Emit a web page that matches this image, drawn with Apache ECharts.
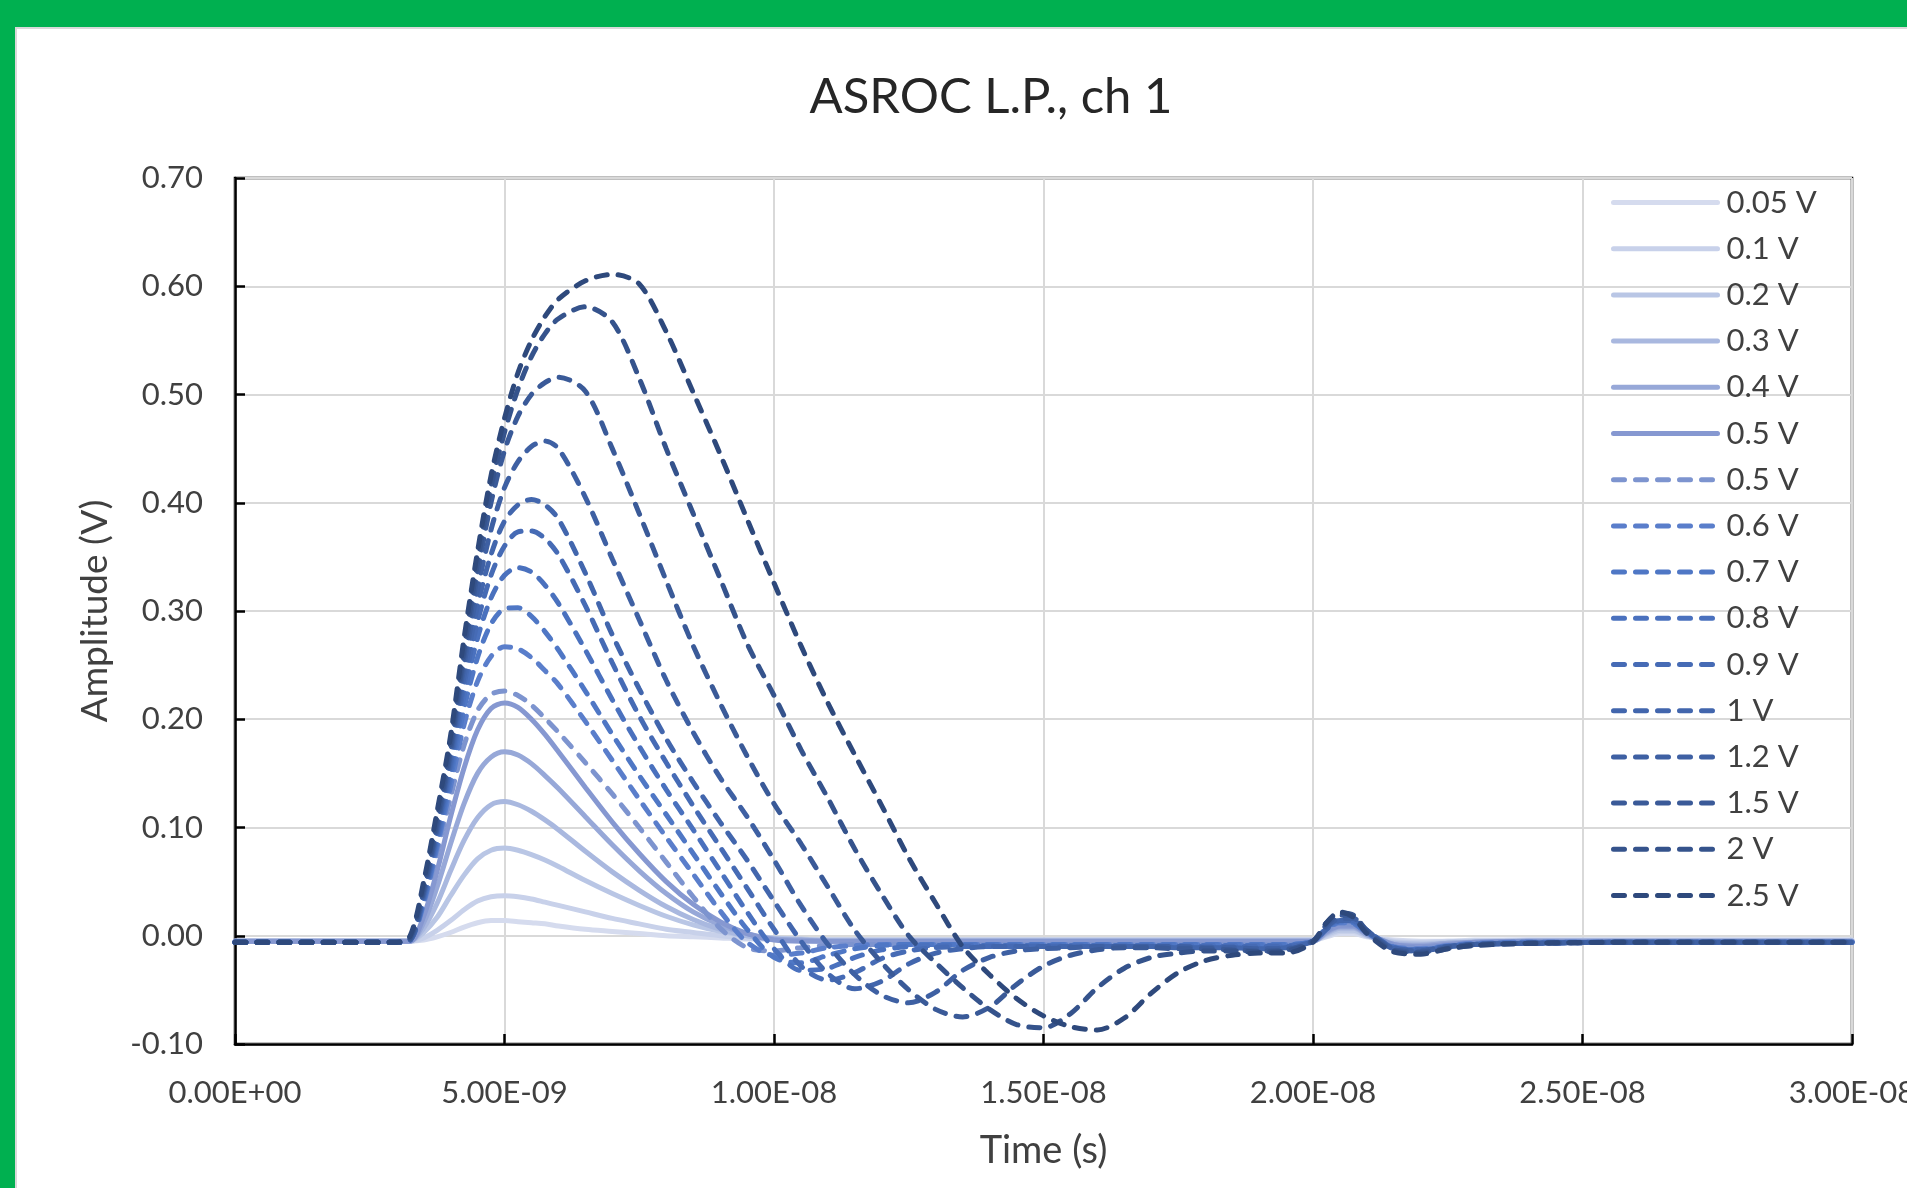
<!DOCTYPE html>
<html>
<head>
<meta charset="utf-8">
<title>ASROC L.P., ch 1</title>
<script src="https://cdn.jsdelivr.net/npm/echarts@6/dist/echarts.min.js"></script>
<style>
  html, body { margin: 0; padding: 0; width: 1907px; height: 1188px; overflow: hidden; background: #00b050; }
  #frame { position: absolute; left: 15px; top: 27px; width: 1892px; height: 1161px; background: #fff;
           box-sizing: border-box; border-left: 2px solid #d9d9d9; border-top: 2px solid #d9d9d9; }
  #chart { position: absolute; left: 0; top: 0; width: 1907px; height: 1188px; }
</style>
</head>
<body>
<div id="frame"></div>
<div id="chart"></div>
<script>
// time in ns (shown on the axis in seconds)
const timeNs = [
  0, 2, 3, 3.25, 3.5, 3.75, 4, 4.25, 4.5, 4.75, 5, 5.25, 5.5, 5.75, 6,
  6.5, 7, 7.5, 8, 8.5, 9, 9.5, 10, 10.5, 11, 11.5, 12, 12.5, 13, 13.5,
  14, 14.5, 15, 15.5, 16, 16.5, 17, 17.5, 18, 18.5, 19, 19.5, 20, 20.25, 20.5,
  20.75, 21, 21.5, 22, 22.5, 23, 24, 26, 28, 30,
];

const labels = [
  "0.05 V", "0.1 V", "0.2 V", "0.3 V", "0.4 V", "0.5 V",
  "0.5 V", "0.6 V", "0.7 V", "0.8 V", "0.9 V", "1 V", "1.2 V", "1.5 V", "2 V", "2.5 V",
];

const yTicks = [-0.1, 0, 0.1, 0.2, 0.3, 0.4, 0.5, 0.6, 0.7];
const xTicksNs = [0, 5, 10, 15, 20, 25, 30];

// amplitudes (V)
const v005 = [
  -0.005, -0.005, -0.005, -0.005, -0.004, -0.001, 0.003, 0.008, 0.012, 0.014, 0.014, 0.013, 0.012, 0.011, 0.009,
  0.006, 0.004, 0.002, 0.0, -0.001, -0.002, -0.003, -0.003, -0.004, -0.004, -0.004, -0.004, -0.004, -0.004, -0.004,
  -0.004, -0.004, -0.004, -0.004, -0.004, -0.004, -0.004, -0.004, -0.004, -0.004, -0.004, -0.004, -0.004, -0.001, 0.002,
  0.002, -0.001, -0.004, -0.005, -0.005, -0.004, -0.004, -0.004, -0.004, -0.004,
];
const v01 = [
  -0.005, -0.005, -0.005, -0.005, -0.002, 0.005, 0.014, 0.024, 0.032, 0.036, 0.037, 0.036, 0.034, 0.031, 0.028,
  0.022, 0.016, 0.011, 0.006, 0.003, 0.0, -0.002, -0.003, -0.004, -0.004, -0.004, -0.004, -0.004, -0.004, -0.004,
  -0.004, -0.004, -0.004, -0.004, -0.004, -0.004, -0.004, -0.004, -0.004, -0.004, -0.004, -0.004, -0.004, 0.0, 0.004,
  0.004, 0.0, -0.005, -0.006, -0.005, -0.005, -0.004, -0.004, -0.004, -0.004,
];
const v02 = [
  -0.005, -0.005, -0.005, -0.005, 0.003, 0.017, 0.037, 0.056, 0.071, 0.079, 0.081, 0.079, 0.075, 0.07, 0.064,
  0.051, 0.039, 0.028, 0.018, 0.01, 0.004, 0.0, -0.002, -0.003, -0.004, -0.004, -0.004, -0.004, -0.004, -0.004,
  -0.004, -0.004, -0.004, -0.004, -0.004, -0.004, -0.004, -0.004, -0.004, -0.004, -0.004, -0.004, -0.004, 0.001, 0.005,
  0.005, 0.0, -0.006, -0.007, -0.006, -0.005, -0.005, -0.005, -0.005, -0.005,
];
const v03 = [
  -0.005, -0.005, -0.005, -0.005, 0.007, 0.03, 0.06, 0.088, 0.109, 0.121, 0.124, 0.121, 0.115, 0.107, 0.098,
  0.078, 0.059, 0.042, 0.027, 0.015, 0.006, 0.0, -0.003, -0.004, -0.005, -0.005, -0.005, -0.005, -0.005, -0.005,
  -0.005, -0.005, -0.005, -0.005, -0.005, -0.005, -0.005, -0.005, -0.005, -0.005, -0.005, -0.005, -0.005, 0.002, 0.007,
  0.007, 0.001, -0.007, -0.008, -0.007, -0.006, -0.005, -0.005, -0.005, -0.005,
];
const v04 = [
  -0.005, -0.005, -0.005, -0.005, 0.012, 0.045, 0.085, 0.122, 0.15, 0.165, 0.17, 0.167, 0.159, 0.148, 0.136,
  0.11, 0.084, 0.06, 0.039, 0.022, 0.01, 0.002, -0.003, -0.004, -0.005, -0.005, -0.005, -0.005, -0.005, -0.005,
  -0.005, -0.005, -0.005, -0.005, -0.005, -0.005, -0.005, -0.005, -0.005, -0.005, -0.005, -0.005, -0.005, 0.003, 0.008,
  0.008, 0.001, -0.008, -0.009, -0.007, -0.006, -0.005, -0.005, -0.005, -0.005,
];
const v05s = [
  -0.005, -0.005, -0.005, -0.005, 0.018, 0.06, 0.11, 0.155, 0.19, 0.21, 0.215, 0.211, 0.2, 0.186, 0.17,
  0.137, 0.105, 0.076, 0.05, 0.029, 0.013, 0.002, -0.004, -0.005, -0.005, -0.005, -0.005, -0.005, -0.005, -0.005,
  -0.005, -0.005, -0.005, -0.005, -0.005, -0.005, -0.005, -0.005, -0.005, -0.005, -0.005, -0.005, -0.005, 0.004, 0.009,
  0.009, 0.002, -0.008, -0.01, -0.008, -0.006, -0.005, -0.005, -0.005, -0.005,
];
const v05d = [
  -0.006, -0.006, -0.006, -0.004, 0.028, 0.077, 0.128, 0.176, 0.208, 0.223, 0.226, 0.222, 0.213, 0.201, 0.188,
  0.16, 0.131, 0.1, 0.068, 0.036, 0.007, -0.011, -0.014, -0.011, -0.009, -0.008, -0.008, -0.008, -0.008, -0.008,
  -0.008, -0.008, -0.008, -0.008, -0.008, -0.008, -0.008, -0.008, -0.008, -0.008, -0.008, -0.008, -0.005, 0.005, 0.011,
  0.01, 0.003, -0.009, -0.011, -0.009, -0.007, -0.006, -0.006, -0.006, -0.006,
];
const v06 = [
  -0.006, -0.006, -0.006, -0.004, 0.03, 0.082, 0.138, 0.195, 0.235, 0.258, 0.267, 0.265, 0.257, 0.245, 0.232,
  0.198, 0.162, 0.126, 0.091, 0.057, 0.023, -0.006, -0.018, -0.016, -0.011, -0.009, -0.008, -0.008, -0.008, -0.008,
  -0.008, -0.008, -0.008, -0.008, -0.008, -0.008, -0.008, -0.008, -0.008, -0.008, -0.008, -0.008, -0.005, 0.006, 0.012,
  0.011, 0.003, -0.01, -0.012, -0.009, -0.007, -0.006, -0.006, -0.006, -0.006,
];
const v07 = [
  -0.006, -0.006, -0.006, -0.004, 0.032, 0.086, 0.146, 0.21, 0.257, 0.288, 0.302, 0.303, 0.295, 0.281, 0.264,
  0.226, 0.186, 0.148, 0.112, 0.076, 0.04, 0.006, -0.02, -0.025, -0.018, -0.012, -0.009, -0.008, -0.008, -0.008,
  -0.008, -0.008, -0.008, -0.008, -0.008, -0.008, -0.008, -0.008, -0.008, -0.008, -0.008, -0.008, -0.005, 0.007, 0.013,
  0.012, 0.003, -0.011, -0.013, -0.01, -0.008, -0.006, -0.006, -0.006, -0.006,
];
const v08 = [
  -0.006, -0.006, -0.006, -0.004, 0.034, 0.09, 0.152, 0.222, 0.275, 0.312, 0.333, 0.34, 0.336, 0.324, 0.307,
  0.264, 0.218, 0.175, 0.135, 0.098, 0.06, 0.022, -0.012, -0.032, -0.03, -0.02, -0.013, -0.01, -0.009, -0.009,
  -0.009, -0.009, -0.009, -0.009, -0.009, -0.009, -0.009, -0.009, -0.009, -0.009, -0.009, -0.009, -0.005, 0.008, 0.014,
  0.013, 0.004, -0.011, -0.013, -0.01, -0.008, -0.007, -0.006, -0.006, -0.006,
];
const v09 = [
  -0.006, -0.006, -0.006, -0.004, 0.036, 0.094, 0.158, 0.232, 0.29, 0.333, 0.36, 0.373, 0.374, 0.367, 0.352,
  0.305, 0.252, 0.203, 0.16, 0.12, 0.082, 0.044, 0.006, -0.028, -0.041, -0.034, -0.021, -0.014, -0.011, -0.01,
  -0.01, -0.01, -0.01, -0.01, -0.01, -0.01, -0.01, -0.01, -0.01, -0.01, -0.01, -0.01, -0.005, 0.008, 0.015,
  0.014, 0.004, -0.012, -0.014, -0.01, -0.008, -0.007, -0.006, -0.006, -0.006,
];
const v1 = [
  -0.006, -0.006, -0.006, -0.004, 0.038, 0.097, 0.163, 0.24, 0.305, 0.352, 0.383, 0.398, 0.403, 0.398, 0.385,
  0.335, 0.278, 0.228, 0.182, 0.142, 0.105, 0.07, 0.032, -0.005, -0.035, -0.049, -0.042, -0.026, -0.016, -0.012,
  -0.01, -0.01, -0.01, -0.01, -0.01, -0.01, -0.01, -0.011, -0.011, -0.011, -0.012, -0.011, -0.005, 0.006, 0.014,
  0.014, 0.005, -0.011, -0.013, -0.01, -0.008, -0.007, -0.006, -0.006, -0.006,
];
const v12 = [
  -0.006, -0.006, -0.006, -0.004, 0.04, 0.1, 0.168, 0.25, 0.32, 0.375, 0.414, 0.438, 0.452, 0.457, 0.45,
  0.405, 0.348, 0.292, 0.236, 0.188, 0.146, 0.11, 0.07, 0.028, -0.008, -0.036, -0.055, -0.062, -0.052, -0.032,
  -0.02, -0.014, -0.012, -0.011, -0.01, -0.01, -0.01, -0.01, -0.011, -0.011, -0.012, -0.012, -0.005, 0.008, 0.016,
  0.016, 0.005, -0.012, -0.014, -0.01, -0.008, -0.007, -0.006, -0.006, -0.006,
];
const v15 = [
  -0.006, -0.006, -0.006, -0.003, 0.042, 0.103, 0.172, 0.258, 0.335, 0.4, 0.448, 0.48, 0.5, 0.511, 0.516,
  0.503, 0.45, 0.39, 0.328, 0.268, 0.215, 0.166, 0.122, 0.085, 0.045, 0.005, -0.025, -0.05, -0.068, -0.075,
  -0.066, -0.045, -0.028, -0.018, -0.013, -0.011, -0.011, -0.012, -0.012, -0.013, -0.014, -0.013, -0.005, 0.01, 0.019,
  0.018, 0.005, -0.013, -0.015, -0.011, -0.008, -0.007, -0.006, -0.006, -0.006,
];
const v2 = [
  -0.006, -0.006, -0.006, -0.002, 0.045, 0.108, 0.178, 0.265, 0.345, 0.415, 0.465, 0.505, 0.535, 0.556, 0.57,
  0.581, 0.567, 0.515, 0.45, 0.39, 0.33, 0.27, 0.222, 0.172, 0.127, 0.08, 0.038, 0.0, -0.025, -0.048,
  -0.068, -0.082, -0.085, -0.072, -0.048, -0.03, -0.02, -0.016, -0.014, -0.014, -0.015, -0.014, -0.005, 0.012, 0.021,
  0.019, 0.004, -0.014, -0.016, -0.012, -0.009, -0.007, -0.006, -0.006, -0.006,
];
const v25 = [
  -0.006, -0.006, -0.006, 0.0, 0.05, 0.115, 0.185, 0.275, 0.355, 0.425, 0.478, 0.52, 0.55, 0.572, 0.588,
  0.605, 0.611, 0.602, 0.558, 0.502, 0.445, 0.385, 0.326, 0.268, 0.215, 0.167, 0.12, 0.072, 0.03, -0.01,
  -0.036, -0.058, -0.074, -0.084, -0.087, -0.076, -0.053, -0.034, -0.023, -0.018, -0.016, -0.016, -0.006, 0.012, 0.022,
  0.017, 0.002, -0.015, -0.017, -0.012, -0.009, -0.007, -0.006, -0.006, -0.006,
];

const allValues = [v005, v01, v02, v03, v04, v05s, v05d, v06, v07, v08, v09, v1, v12, v15, v2, v25];

const colors = [
  "#d5dbee", "#c8d1ea", "#b9c6e5", "#a9b8df", "#97a8d8", "#8698d1",
  "#7d94cf", "#5a7ecb", "#4f77c5", "#4a71be", "#466bb5", "#4266ad", "#3e60a3", "#3a5a98", "#35538c", "#2e497c",
];

const font = "Lato";
const textColor = "#404040";

function sciLabel(ns) {
  const [m, e] = (ns * 1e-9).toExponential(2).split("e");
  const n = Math.abs(parseInt(e, 10));
  return m + "E" + (e[0] === "-" ? "-" : "+") + String(n).padStart(2, "0");
}

const chart = echarts.init(document.getElementById("chart"), null, { renderer: "canvas" });

// two series share the label "0.5 V"; the second gets a trailing space so the legend keeps both
const series = allValues.map((vals, i) => ({
  name: i === 6 ? labels[i] + " " : labels[i],
  type: "line",
  symbol: "none",
  smooth: 0.3,
  data: timeNs.map((t, j) => [t, vals[j]]),
  lineStyle: {
    width: 5,
    color: colors[i],
    type: i < 6 ? "solid" : [11, 11],
    cap: "round",
  },
  itemStyle: { color: colors[i] },
}));

const option = {
  animation: false,
  title: {
    text: "ASROC L.P., ch 1",
    left: 986,
    top: 68,
    textAlign: "center",
    textStyle: { fontFamily: font, fontSize: 49, fontWeight: "normal", color: "#262626" },
  },
  legend: {
    orient: "vertical",
    left: 1611,
    top: 187,
    padding: 0,
    itemWidth: 104,
    itemHeight: 31,
    itemGap: 15.2,
    data: series.map((s) => s.name),
    formatter: (name) => name.trim(),
    itemStyle: { opacity: 0 },
    lineStyle: { width: 5 },
    textStyle: { fontFamily: font, fontSize: 31, color: textColor, lineHeight: 31, padding: [0, 0, 0, 4] },
  },
  grid: {
    left: 235,
    top: 178,
    width: 1617,
    height: 866,
    outerBoundsMode: "none",
    show: true,
    borderColor: "#000",
    borderWidth: 2.5,
  },
  xAxis: {
    type: "value",
    min: xTicksNs[0],
    max: xTicksNs[xTicksNs.length - 1],
    interval: 5,
    name: "Time (s)",
    nameLocation: "middle",
    nameGap: 88,
    nameTextStyle: { fontFamily: font, fontSize: 38, color: textColor },
    axisLine: { onZero: false, lineStyle: { color: "#000", width: 2.5 } },
    axisTick: { inside: true, length: 10, lineStyle: { color: "#000", width: 2.5 } },
    axisLabel: {
      margin: 33,
      fontFamily: font,
      fontSize: 31,
      color: textColor,
      formatter: sciLabel,
    },
    splitLine: { lineStyle: { color: "#d9d9d9", width: 2 } },
  },
  yAxis: {
    type: "value",
    min: yTicks[0],
    max: yTicks[yTicks.length - 1],
    interval: 0.1,
    name: "Amplitude (V)",
    nameLocation: "middle",
    nameGap: 121,
    nameTextStyle: { fontFamily: font, fontSize: 37, color: textColor },
    axisLine: { show: true, lineStyle: { color: "#000", width: 2.5 } },
    axisTick: { show: true, inside: true, length: 10, lineStyle: { color: "#000", width: 2.5 } },
    axisLabel: {
      margin: 32,
      fontFamily: font,
      fontSize: 31,
      color: textColor,
      formatter: (v) => v.toFixed(2),
    },
    splitLine: { lineStyle: { color: "#d9d9d9", width: 2 } },
  },
  series: series,
};

chart.setOption(option);
</script>
</body>
</html>
